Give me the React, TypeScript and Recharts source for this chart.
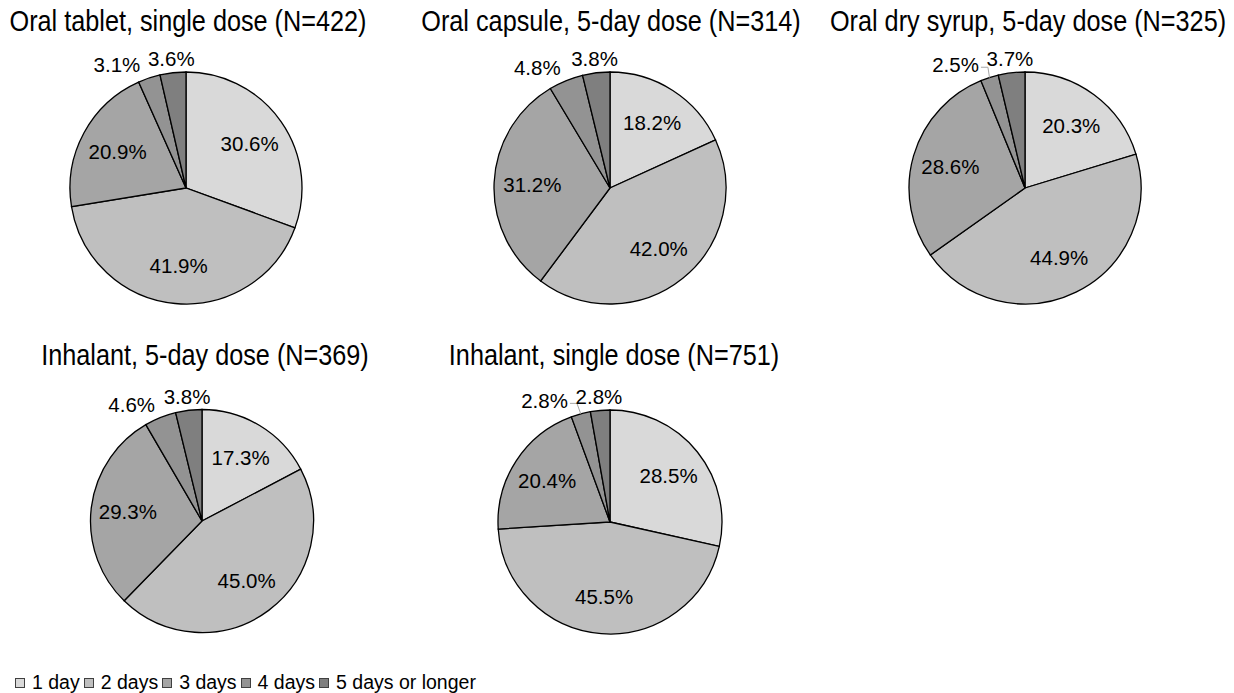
import { PieChart, Pie, Cell, Legend } from 'recharts';

const CATEGORIES = ['1 day', '2 days', '3 days', '4 days', '5 days or longer'];

const TABLET_SINGLE = [30.6, 41.9, 20.9, 3.1, 3.6];
const CAPSULE_5DAY = [18.2, 42.0, 31.2, 4.8, 3.8];
const SYRUP_5DAY = [20.3, 44.9, 28.6, 2.5, 3.7];
const INHALANT_5DAY = [17.3, 45.0, 29.3, 4.6, 3.8];
const INHALANT_SINGLE = [28.5, 45.5, 20.4, 2.8, 2.8];

const TITLES = [
  'Oral tablet, single dose (N=422)',
  'Oral capsule, 5-day dose (N=314)',
  'Oral dry syrup, 5-day dose (N=325)',
  'Inhalant, 5-day dose (N=369)',
  'Inhalant, single dose (N=751)',
];

const COLORS = ['#d9d9d9', '#bfbfbf', '#a5a5a5', '#939393', '#7f7f7f'];
const FONT = "'Liberation Sans', Arial, sans-serif";
const RAD = Math.PI / 180;
const START = 90;
const END = -270;

// layout of the five pies (page pixels)
const LAYOUT = [
  { cx: 186, cy: 188, r: 116, titleX: 188, titleTop: 6.5 },
  { cx: 610, cy: 188, r: 116, titleX: 611, titleTop: 6.5 },
  { cx: 1025, cy: 188, r: 116, titleX: 1028, titleTop: 6.5 },
  { cx: 202, cy: 521, r: 111.5, titleX: 205, titleTop: 340.5 },
  { cx: 610, cy: 522, r: 112, titleX: 614, titleTop: 340.5 },
];

const SERIES = [TABLET_SINGLE, CAPSULE_5DAY, SYRUP_5DAY, INHALANT_5DAY, INHALANT_SINGLE];

const toRows = (values: number[]) => values.map((v, i) => ({ name: CATEGORIES[i], value: v }));

const renderLabel = (props: any) => {
  const { cx, cy, midAngle, outerRadius, percent, index, value, endAngle } = props;
  const txt = `${Number(value).toFixed(1)}%`;
  const common = { fontSize: 20.5, fontFamily: FONT, fill: '#000', dominantBaseline: 'central' as const };

  if (percent >= 0.06) {
    const r = outerRadius * 0.67;
    const x = cx + r * Math.cos(-midAngle * RAD);
    const y = cy + r * Math.sin(-midAngle * RAD);
    return <text x={x} y={y} textAnchor="middle" {...common}>{txt}</text>;
  }

  const ro = outerRadius + 14;
  const mx = cx + ro * Math.cos(-midAngle * RAD);
  const my = cy + ro * Math.sin(-midAngle * RAD);
  if (index === CATEGORIES.length - 1) {
    return <text x={mx} y={my} textAnchor="middle" {...common}>{txt}</text>;
  }

  // keep clear of the last slice's label
  const nextMid = (endAngle + END) / 2;
  const nx = cx + ro * Math.cos(-nextMid * RAD);
  const right = Math.min(mx, nx - 23 - 8);
  const ox = cx + outerRadius * Math.cos(-midAngle * RAD);
  const oy = cy + outerRadius * Math.sin(-midAngle * RAD);
  return (
    <g>
      {percent < 0.03 && (
        <polyline
          points={`${right + 2},${my + 3} ${right + 9},${my + 3} ${ox},${oy}`}
          fill="none"
          stroke="#a6a6a6"
          strokeWidth={1}
        />
      )}
      <text x={right} y={my} textAnchor="end" {...common}>{txt}</text>
    </g>
  );
};

const LegendContent = (props: any) => {
  const seen = new Set<string>();
  const items = (props.payload || []).filter((p: any) => {
    if (seen.has(p.value)) return false;
    seen.add(p.value);
    return true;
  });
  const list = items.length
    ? items.map((p: any, i: number) => ({ name: p.value, color: COLORS[i] }))
    : CATEGORIES.map((c, i) => ({ name: c, color: COLORS[i] }));
  return (
    <div style={{ display: 'flex', alignItems: 'center', fontFamily: FONT, fontSize: 19.5, color: '#000', whiteSpace: 'nowrap' }}>
      {list.map((it: any) => (
        <div key={it.name} style={{ display: 'flex', alignItems: 'center', marginRight: 4 }}>
          <span style={{ display: 'inline-block', width: 8, height: 8, background: it.color, border: '1px solid #404040', marginRight: 7 }} />
          <span>{it.name}</span>
        </div>
      ))}
    </div>
  );
};

export default function App() {
  return (
    <div style={{ position: 'absolute', left: 0, top: 0, width: 1234, height: 693, background: '#fff', fontFamily: FONT }}>
      <PieChart width={1234} height={693} margin={{ top: 0, right: 0, bottom: 0, left: 0 }}>
        {SERIES.map((values, pi) => (
          <Pie
            key={pi}
            data={toRows(values)}
            dataKey="value"
            nameKey="name"
            cx={LAYOUT[pi].cx}
            cy={LAYOUT[pi].cy}
            outerRadius={LAYOUT[pi].r}
            startAngle={START}
            endAngle={END}
            stroke="#000"
            strokeWidth={1.3}
            label={renderLabel}
            labelLine={false}
            legendType={pi === 0 ? 'square' : 'none'}
            isAnimationActive={false}
          >
            {values.map((_, i) => (
              <Cell key={i} fill={COLORS[i]} />
            ))}
          </Pie>
        ))}
        <Legend
          content={<LegendContent />}
          wrapperStyle={{ position: 'absolute', left: 15, top: 671, bottom: 'auto', width: 'auto' }}
        />
      </PieChart>
      {TITLES.map((t, i) => (
        <div
          key={t}
          style={{
            position: 'absolute',
            left: LAYOUT[i].titleX - 250,
            top: LAYOUT[i].titleTop,
            width: 500,
            textAlign: 'center',
            fontSize: 29,
            lineHeight: '29px',
            whiteSpace: 'nowrap',
            color: '#000',
            transform: 'scaleX(0.87)',
            transformOrigin: 'center',
          }}
        >
          {t}
        </div>
      ))}
    </div>
  );
}
